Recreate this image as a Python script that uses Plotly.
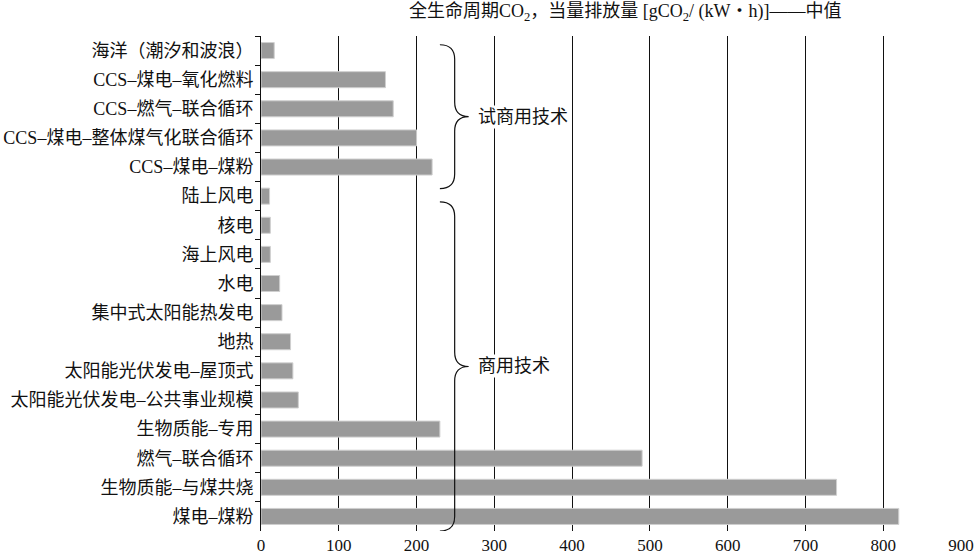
import plotly.graph_objects as go

categories = [
    "海洋（潮汐和波浪）",
    "CCS–煤电–氧化燃料",
    "CCS–燃气–联合循环",
    "CCS–煤电–整体煤气化联合循环",
    "CCS–煤电–煤粉",
    "陆上风电",
    "核电",
    "海上风电",
    "水电",
    "集中式太阳能热发电",
    "地热",
    "太阳能光伏发电–屋顶式",
    "太阳能光伏发电–公共事业规模",
    "生物质能–专用",
    "燃气–联合循环",
    "生物质能–与煤共烧",
    "煤电–煤粉",
]
values = [17, 160, 170, 200, 220, 11, 12, 12, 24, 27, 38, 41, 48, 230, 490, 740, 820]
x_ticks = [0, 100, 200, 300, 400, 500, 600, 700, 800, 900]
groups = [("试商用技术", 0, 4), ("商用技术", 5, 16)]
title_text = "全生命周期CO<sub>2</sub>，当量排放量 [gCO<sub>2</sub>/ (kW・h)]——中值"

FONT = "Liberation Serif, Noto Sans CJK SC, serif"

fig = go.Figure()
fig.add_trace(go.Bar(
    x=values, y=categories, orientation="h",
    marker=dict(color="#9a9a9a", line=dict(color="#cfcfcf", width=1)),
    width=0.55,
))

n = len(categories)

def brace(top, bot):
    xv, xl, xt = 249, 230, 267
    tip = (top + bot) / 2
    c = 0.5
    return (f"M {xl},{top} Q {xv},{top} {xv},{top + c} L {xv},{tip - c} "
            f"Q {xv},{tip} {xt},{tip} Q {xv},{tip} {xv},{tip + c} "
            f"L {xv},{bot - c} Q {xv},{bot} {xl},{bot}")

shapes = []
annotations = []
for name, i0, i1 in groups:
    top = i0 - 0.2 if i0 == 0 else i0 + 0.2
    bot = i1 + 0.74 if i0 == 0 else i1 + 0.5
    shapes.append(dict(type="path", xref="x", yref="y", path=brace(top, bot),
                       line=dict(color="#111111", width=1.2), layer="above"))
    annotations.append(dict(x=277, y=(top + bot) / 2, xref="x", yref="y",
                            text=name, showarrow=False, xanchor="left",
                            yanchor="middle", bgcolor="white", borderpad=1,
                            font=dict(family=FONT, size=18, color="#111111")))

annotations.append(dict(x=0.52, y=1.048, xref="paper", yref="paper",
                        text=title_text, showarrow=False, xanchor="center",
                        yanchor="middle",
                        font=dict(family=FONT, size=18, color="#111111")))

fig.update_layout(
    width=977, height=560,
    margin=dict(l=261, r=16, t=36, b=29),
    paper_bgcolor="white", plot_bgcolor="white",
    showlegend=False,
    shapes=shapes, annotations=annotations,
    font=dict(family=FONT, size=18, color="#111111"),
    xaxis=dict(range=[0, 900], tickvals=x_ticks, showgrid=True,
               gridcolor="#111111", gridwidth=1, zeroline=False,
               showline=False, ticks="", automargin=False,
               ticklabelstandoff=2,
               tickfont=dict(size=17, family=FONT)),
    yaxis=dict(type="category", categoryorder="array", categoryarray=categories,
               range=[n - 0.5, -0.5], showline=True, linecolor="#111111",
               linewidth=1, ticks="outside", tickson="boundaries", ticklen=5,
               tickcolor="#111111", showgrid=False, automargin=False,
               ticklabelstandoff=3,
               tickfont=dict(size=18, family=FONT)),
)

fig.write_html("out.html", config={"displayModeBar": False},
               post_script="document.body.style.margin='0';")
